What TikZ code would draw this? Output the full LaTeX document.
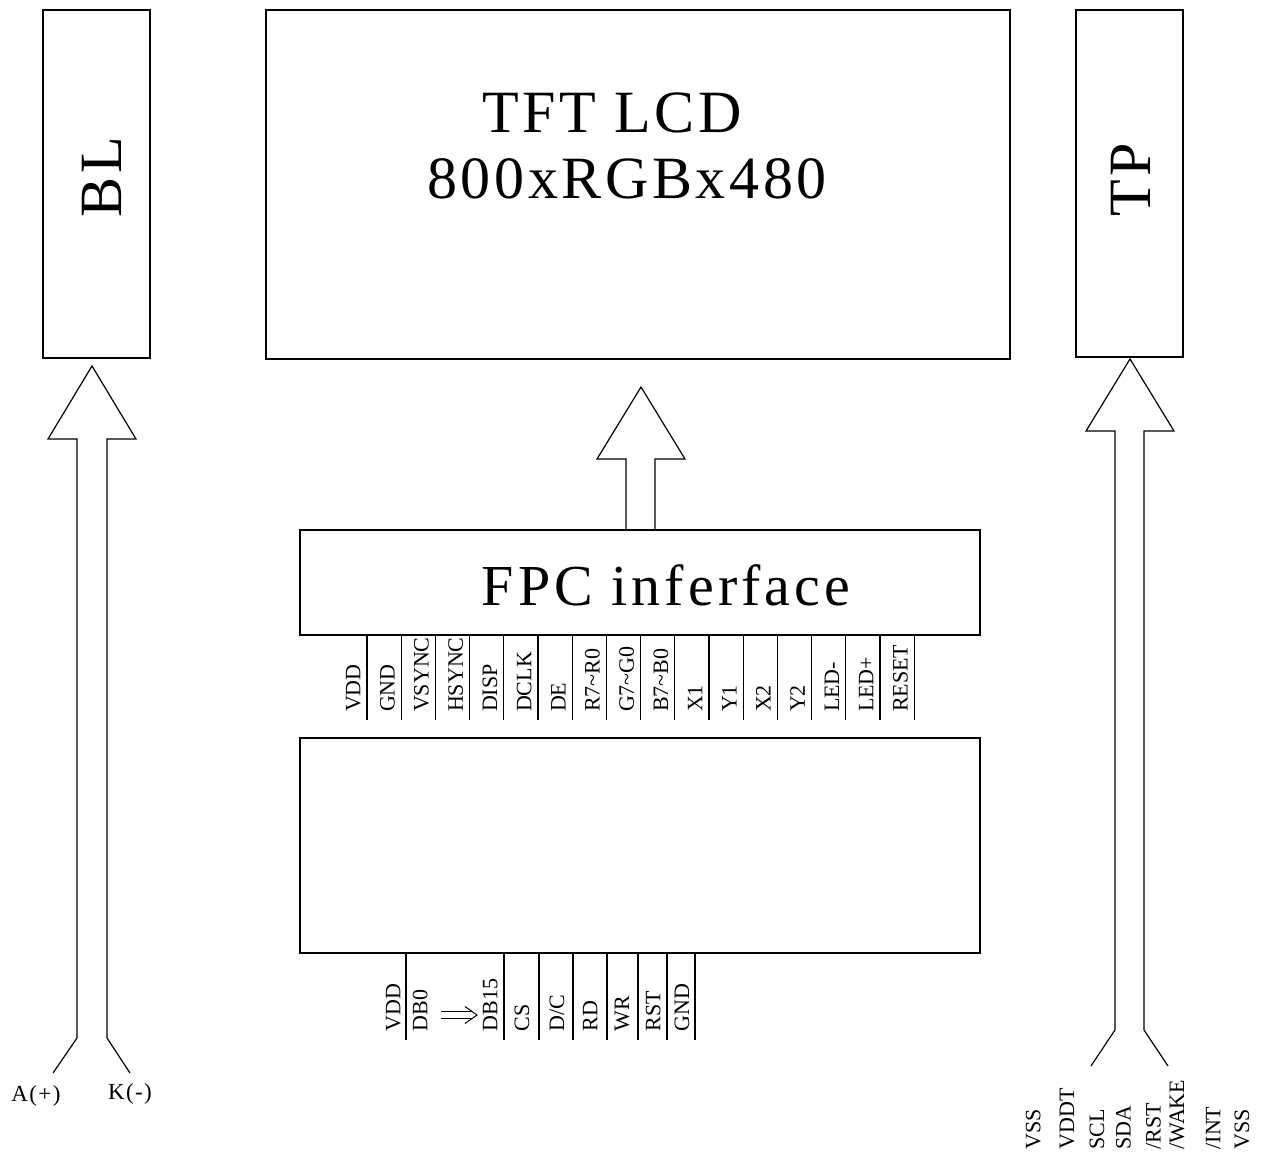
\documentclass[tikz,border=0pt]{standalone}
\usepackage{fontspec}
\setmainfont{Liberation Serif}
\begin{document}
\begin{tikzpicture}[x=1pt,y=-1pt,line width=1.2pt,
  box/.style={draw,inner sep=0pt,line width=1.2pt},
  big/.style={font=\fontsize{60}{60}\selectfont\addfontfeature{LetterSpace=6}},
  pin/.style={rotate=90,anchor=base west,inner sep=0pt,font=\fontsize{22}{22}\selectfont},
  pinline/.style={line width=1.1pt}]
\useasboundingbox (0,0) rectangle (1261,1157);
% boxes
\node[box,minimum width=107pt,minimum height=348pt] (bl) at (96.5,184) {};
\node[box,minimum width=744pt,minimum height=349pt] (lcd) at (638,184.5) {};
\node[box,minimum width=107pt,minimum height=347pt] (tp) at (1129.5,183.5) {};
\node[box,minimum width=680pt,minimum height=105pt] (fpc) at (640,582.5) {};
\node[box,minimum width=680pt,minimum height=215pt] (drv) at (640,845.5) {};
% titles
\node[big,rotate=90,anchor=base,inner sep=0pt] (bltxt) at (121.5,177) {BL};
\node[big,rotate=90,anchor=base,inner sep=0pt] (tptxt) at (1150,180) {TP};
\node[big,anchor=base,inner sep=0pt] (lcd1) at (612,132.7) {TFT LCD};
\node[big,anchor=base,inner sep=0pt] (lcd2) at (627,198.3) {800xRGBx480};
\node[big,anchor=base,inner sep=0pt,font=\fontsize{58}{58}\selectfont\addfontfeature{LetterSpace=7}] (fpctxt) at (666,605) {FPC inferface};
% hollow arrows
\draw (53,1073) -- (77,1038) -- (77,439) -- (48,439) -- (92,366) -- (136,439) -- (107,439) -- (107,1038) -- (130,1073);
\draw (1091,1066) -- (1115,1030) -- (1115,431) -- (1086,431) -- (1130,359) -- (1174,431) -- (1144,431) -- (1144,1030) -- (1168,1066);
\draw (626,530) -- (626,459) -- (597,459) -- (641,387) -- (685,459) -- (655,459) -- (655,530);
% FPC pins
\foreach \k [count=\i from 0] in {VDD,GND,VSYNC,HSYNC,DISP,DCLK,DE,R7\char`\~R0,G7\char`\~G0,B7\char`\~B0,X1,Y1,X2,Y2,LED-,LED+,RESET}{
  \draw[pinline] ({367+34.2*\i},635) -- ({367+34.2*\i},720);
  \node[pin] (fp\i) at ({360.3+34.2*\i},712.5) {\k};
}
% driver pins
\foreach \x in {406,504,539,573,607,638,667,695}
  \draw[pinline] (\x,953) -- (\x,1040);
\foreach \x/\t/\n in {393/VDD/a,420/DB0/b,490/DB15/c,521.7/CS/d,556.7/D\slash C/e,590/RD/f,621.7/WR/g,653/RST/h,681.7/GND/i}
  \node[pin] (dp\n) at (\x+7.3,1031.7) {\t};
% small double arrow
\draw[line width=1pt] (441,1011.5) -- (472,1011.5) (441,1018.5) -- (472,1018.5);
\draw[line width=1pt] (465,1006.5) -- (477,1015) -- (465,1023.5);
% TP pins
\foreach \x/\t/\n in {1033/VSS/a,1066.7/VDDT/b,1096.7/SCL/c,1123.3/SDA/d,1153.3/\slash RST/e,1176.7/\slash WAKE/f,1213/\slash INT/g,1241.7/VSS/h}
  \node[pin] (tpp\n) at (\x+7.3,1150) {\t};
% BL pins
\node[anchor=base,inner sep=0pt,font=\fontsize{23}{23}\selectfont\addfontfeature{LetterSpace=6}] (anode) at (36,1101.7) {A(+)};
\node[anchor=base,inner sep=0pt,font=\fontsize{23}{23}\selectfont\addfontfeature{LetterSpace=6}] (kathode) at (130,1099.3) {K(-)};
\end{tikzpicture}
\end{document}
